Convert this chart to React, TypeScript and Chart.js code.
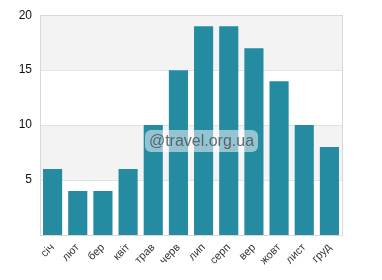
import React, { useEffect, useRef } from "react";
import { Chart, registerables } from "chart.js";

Chart.register(...registerables);

const categories = ["січ", "лют", "бер", "квіт", "трав", "черв", "лип", "серп", "вер", "жовт", "лист", "груд"];
const values = [6, 4, 4, 6, 10, 15, 19, 19, 17, 14, 10, 8];
const yTicks = [0, 5, 10, 15, 20];
const watermark = "@travel.org.ua";

const bandsPlugin = {
  id: "bands",
  beforeDatasetsDraw(chart: any) {
    const { ctx, chartArea, scales } = chart;
    const y = scales.y;
    ctx.save();
    for (let i = 0; i < yTicks.length - 1; i++) {
      if (i % 2 === 1) {
        const top = y.getPixelForValue(yTicks[i + 1]);
        const bot = y.getPixelForValue(yTicks[i]);
        ctx.fillStyle = "#f3f3f3";
        ctx.fillRect(chartArea.left, top, chartArea.right - chartArea.left, bot - top);
      }
    }
    ctx.strokeStyle = "#e2e2e2";
    ctx.lineWidth = 1;
    for (let i = 1; i < yTicks.length - 1; i++) {
      const p = Math.round(y.getPixelForValue(yTicks[i])) + 0.5;
      ctx.beginPath();
      ctx.moveTo(chartArea.left, p);
      ctx.lineTo(chartArea.right, p);
      ctx.stroke();
    }
    ctx.strokeStyle = "#d8d8d8";
    ctx.strokeRect(
      Math.round(chartArea.left) + 0.5,
      Math.round(chartArea.top) + 0.5,
      Math.round(chartArea.right - chartArea.left),
      Math.round(chartArea.bottom - chartArea.top)
    );
    ctx.restore();
  },
};

export default function App() {
  const ref = useRef<HTMLCanvasElement>(null);
  useEffect(() => {
    document.body.style.margin = "0";
    const chart = new Chart(ref.current!, {
      type: "bar",
      data: {
        labels: categories,
        datasets: [
          {
            data: values,
            backgroundColor: "#258ba0",
            barPercentage: 0.76,
            categoryPercentage: 1,
          },
        ],
      },
      options: {
        animation: false,
        responsive: false,
        maintainAspectRatio: false,
        layout: { padding: { top: 10, right: 40, left: 0, bottom: 0 } },
        plugins: { legend: { display: false }, tooltip: { enabled: false } },
        scales: {
          x: {
            grid: { display: false, drawTicks: false },
            border: { display: false },
            ticks: {
              color: "#333",
              font: { family: "Arial, Liberation Sans, sans-serif", size: 11 },
              minRotation: 45,
              maxRotation: 45,
              padding: 6,
            },
            afterFit(scale: any) {
              scale.height = 45;
            },
          },
          y: {
            min: 0,
            max: 20,
            grid: { display: false, drawTicks: false },
            border: { display: false },
            ticks: {
              stepSize: 5,
              color: "#111",
              font: { family: "Arial, Liberation Sans, sans-serif", size: 12 },
              padding: 8,
              callback: (v: any) => (v === 0 ? "" : String(v)),
            },
            afterFit(scale: any) {
              scale.width = 40;
            },
          },
        },
      },
      plugins: [bandsPlugin],
    });
    return () => chart.destroy();
  }, []);
  return (
    <div style={{ position: "fixed", left: 0, top: 0, width: 382, height: 280, background: "#fff" }}>
      <canvas ref={ref} width={382} height={280} style={{ width: 382, height: 280 }} />
      <div
        style={{
          position: "absolute",
          left: 145,
          top: 130,
          width: 113,
          height: 22,
          borderRadius: 6,
          background: "rgba(255,255,255,0.5)",
          color: "rgba(80,80,95,0.85)",
          fontFamily: "Arial, Liberation Sans, sans-serif",
          fontSize: 16,
          lineHeight: "22px",
          textAlign: "center",
          whiteSpace: "nowrap",
        }}
      >
        {watermark}
      </div>
    </div>
  );
}
